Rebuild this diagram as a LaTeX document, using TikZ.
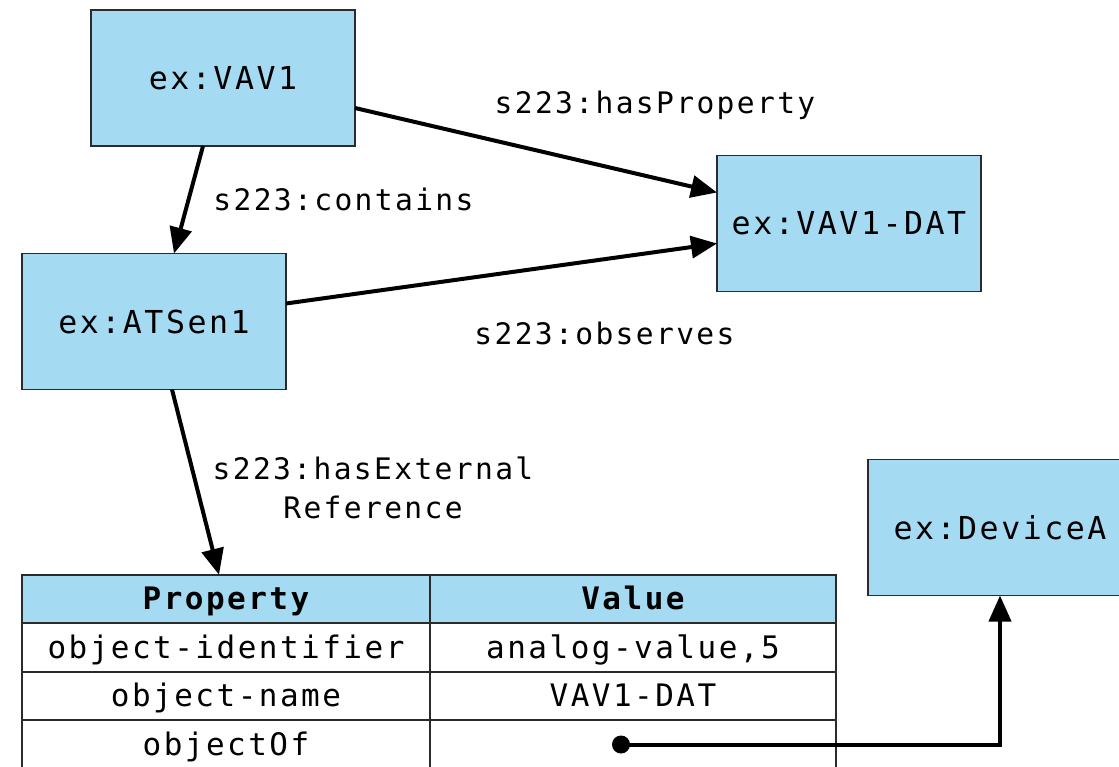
\documentclass[tikz,border=0pt]{standalone}
\usepackage{fontspec}
\usetikzlibrary{arrows.meta,calc}
\newfontfamily\diagmono[LetterSpace=8]{DejaVu Sans Mono}
\definecolor{boxblue}{HTML}{A4DAF2}
\definecolor{edgegray}{HTML}{2B2B2B}
\begin{document}
\begin{tikzpicture}[x=0.5pt,y=-0.5pt,
  entity/.style={draw=edgegray, fill=boxblue, line width=0.8pt,
    minimum width=132pt, minimum height=68pt, inner sep=0pt, outer sep=0pt,
    font=\diagmono\fontsize{15.8}{19}\selectfont},
  rel/.style={inner sep=0pt, font=\diagmono\fontsize{14.8}{19.5}\selectfont},
  link/.style={line width=2pt, -{Triangle[length=13pt,width=11pt]}},
  cell/.style={draw=edgegray, line width=0.9pt, minimum height=24.25pt,
    inner sep=0pt, outer sep=0pt, text height=12pt, text depth=1.5pt,
    font=\diagmono\fontsize{15.5}{19}\selectfont},
  colA/.style={cell, minimum width=204pt},
  colB/.style={cell, minimum width=203pt},
  head/.style={fill=boxblue, font=\diagmono\bfseries\fontsize{15.5}{19}\selectfont}
]
\useasboundingbox (0,0) rectangle (1119,766);
\clip (0,0) rectangle (1119,766);

% resources
\node[entity] (vav1)  at (223,78)     {ex:VAV1};
\node[entity] (atsen) at (154,321.5)  {ex:ATSen1};
\node[entity] (dat)   at (849,223.5)  {ex:VAV1-DAT};
\node[entity] (deva)  at (1000,527.5) {ex:DeviceA};

% BACnet property table
\node[colA, head] (h1) at (226,599)   {Property};
\node[colB, head] (h2) at (633,599)   {Value};
\node[colA] (r1a) at (226,647.5) {object-identifier};
\node[colB] (r1b) at (633,647.5) {analog-value,5};
\node[colA] (r2a) at (226,696)   {object-name};
\node[colB] (r2b) at (633,696)   {VAV1-DAT};
\node[colA] (r3a) at (226,744.5) {objectOf};
\node[colB] (r3b) at (633,744.5) {};
\node[circle, fill=black, inner sep=0pt, minimum size=9pt] (dot) at (621,744.5) {};

% relations
\draw[link] ([xshift=-10pt]vav1.south) -- ([xshift=10pt]atsen.north);
\draw[link] ([yshift=-15pt]vav1.east) -- ([yshift=15.5pt]dat.west);
\draw[link] ([yshift=9pt]atsen.east) -- ([yshift=-10pt]dat.west);
\draw[link] ([xshift=9pt]atsen.south) -- ([xshift=-3.5pt]h1.north);
\draw[link] (dot.center) -| (deva.south);

% relation labels
\node[rel, anchor=base] (lprop) at (655,113) {s223:hasProperty};
\node[rel, anchor=base west] (lcont) at (213,210) {s223:contains};
\node[rel, anchor=base west] (lobs) at (474,344) {s223:observes};
\node[rel, anchor=base, align=center] (lext) at (373,518) {s223:hasExternal\\Reference};
\end{tikzpicture}
\end{document}
